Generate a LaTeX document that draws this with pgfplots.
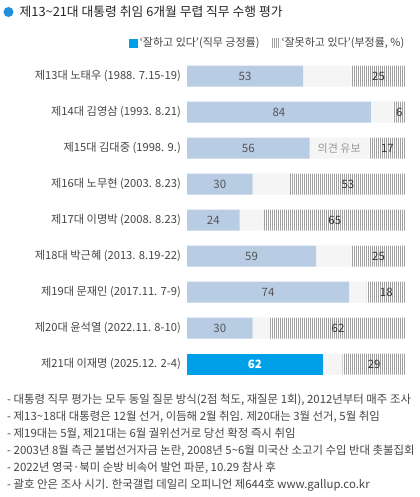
\documentclass[border=0pt]{standalone}
\usepackage{fontspec}
\setmainfont{Noto Sans CJK KR}
\usepackage{pgfplots}
\usepackage{pgfplotstable}
\pgfplotsset{compat=1.18}
\usetikzlibrary{patterns.meta}

\definecolor{posblue}{RGB}{184,204,228}
\definecolor{nowblue}{RGB}{0,160,233}
\definecolor{neugray}{RGB}{245,245,245}
\definecolor{hatchgray}{RGB}{160,160,160}
\definecolor{labelgray}{RGB}{68,68,68}
\definecolor{numgray}{RGB}{85,85,85}
\definecolor{titleblue}{RGB}{30,144,220}

% row: 0 = 13th ... 8 = 21st president; pos / neu / neg in %
\pgfplotstableread{
row pos neu neg
0 53 22 25
1 84 10 6
2 56 27 17
3 30 17 53
4 24 11 65
5 59 16 25
6 74 8 18
7 30 8 62
8 62 9 29
}\approval

\tikzset{hatch/.style={pattern={Lines[angle=90,distance=2bp,line width=0.9bp]}, pattern color=hatchgray}}
\newcommand{\fs}[1]{\fontsize{#1bp}{1.2\dimexpr#1bp\relax}\selectfont}

\begin{document}
\begin{tikzpicture}
\useasboundingbox (0bp,0bp) rectangle (420bp,497bp);

% title
\fill[titleblue] (8.5bp,485bp) circle (5bp);
\node[anchor=west, inner sep=0pt, text=black!85] at (19.5bp,485bp)
  {\fs{12.8}제13\textasciitilde21대 대통령 취임 6개월 무렵 직무 수행 평가};

% bars
\begin{axis}[
  at={(187bp,115bp)}, anchor=south west,
  scale only axis, width=219bp, height=324bp,
  xbar stacked, bar width=21bp,
  xmin=0, xmax=100, ymin=-0.5, ymax=8.5, y dir=reverse,
  axis x line=none, axis y line*=left,
  y axis line style={draw=none},
  ytick={0,...,8}, major tick length=0pt,
  yticklabels={
    제13대 노태우 (1988. 7.15-19),
    제14대 김영삼 (1993. 8.21),
    제15대 김대중 (1998. 9.),
    제16대 노무현 (2003. 8.23),
    제17대 이명박 (2008. 8.23),
    제18대 박근혜 (2013. 8.19-22),
    제19대 문재인 (2017.11. 7-9),
    제20대 윤석열 (2022.11. 8-10),
    제21대 이재명 (2025.12. 2-4)},
  yticklabel style={font=\fs{11.2}, text=labelgray, inner sep=0pt, xshift=-6bp},
]
\addplot[fill=posblue, draw=none] table[x expr={\thisrow{row}==8 ? 0 : \thisrow{pos}}, y=row] {\approval};
\addplot[fill=nowblue, draw=none] table[x expr={\thisrow{row}==8 ? \thisrow{pos} : 0}, y=row] {\approval};
\addplot[fill=neugray, draw=none] table[x=neu, y=row] {\approval};
\addplot[hatch, draw=none] table[x=neg, y=row] {\approval};
\end{axis}

% value labels and legend
\begin{axis}[
  at={(187bp,115bp)}, anchor=south west,
  scale only axis, width=219bp, height=324bp,
  xmin=0, xmax=100, ymin=-0.5, ymax=8.5, y dir=reverse,
  hide axis, clip=false,
  /pgf/number format/assume math mode=true,
  legend columns=2,
  legend image code/.code={\fill[#1] (0bp,-4.5bp) rectangle (9bp,4.5bp);},
  legend style={at={(1,1)}, anchor=south east, yshift=8bp, draw=none, fill=none,
    inner sep=0pt, font=\fs{11}, text=labelgray,
    nodes={inner sep=1.5bp}},
  every node near coord/.append style={anchor=center, font=\fs{11.5}},
]
\addlegendimage{fill=nowblue, draw=none}
\addlegendentry{‘잘하고 있다’(직무 긍정률)\hspace*{10bp}\mbox{}}
\addlegendimage{hatch, draw=none}
\addlegendentry{‘잘못하고 있다’(부정률, \%)}

\addplot[only marks, mark size=0pt, nodes near coords, point meta=explicit,
  restrict y to domain=0:7,
  every node near coord/.append style={text=numgray}]
  table[x expr=\thisrow{pos}/2, y=row, meta=pos] {\approval};
\addplot[only marks, mark size=0pt, nodes near coords, point meta=explicit,
  restrict y to domain=8:8,
  every node near coord/.append style={text=white, font=\fs{11.5}\bfseries}]
  table[x expr=\thisrow{pos}/2, y=row, meta=pos] {\approval};
\addplot[only marks, mark size=0pt, nodes near coords={의견 유보},
  restrict y to domain=2:2,
  every node near coord/.append style={text=black!40, font=\fs{11}}]
  table[x expr=\thisrow{pos}+\thisrow{neu}/2, y=row] {\approval};
\addplot[only marks, mark size=0pt, nodes near coords, point meta=explicit,
  every node near coord/.append style={text=black!80}]
  table[x expr=100-\thisrow{neg}/2, y=row, meta=neg] {\approval};
\end{axis}

% notes
\begin{scope}[every node/.style={anchor=base west, inner sep=0pt, text=labelgray, font=\fs{11.4}}]
\node at (7bp,93bp) {- 대통령 직무 평가는 모두 동일 질문 방식(2점 척도, 재질문 1회), 2012년부터 매주 조사};
\node at (7bp,76.2bp) {- 제13\textasciitilde18대 대통령은 12월 선거, 이듬해 2월 취임. 제20대는 3월 선거, 5월 취임};
\node at (7bp,59.4bp) {- 제19대는 5월, 제21대는 6월 궐위선거로 당선 확정 즉시 취임};
\node at (7bp,42.6bp) {- 2003년 8월 측근 불법선거자금 논란, 2008년 5\textasciitilde6월 미국산 소고기 수입 반대 촛불집회};
\node at (7bp,25.8bp) {- 2022년 영국·북미 순방 비속어 발언 파문, 10.29 참사 후};
\node at (7bp,9bp) {- 괄호 안은 조사 시기. 한국갤럽 데일리 오피니언 제644호 www.gallup.co.kr};
\end{scope}
\end{tikzpicture}
\end{document}
